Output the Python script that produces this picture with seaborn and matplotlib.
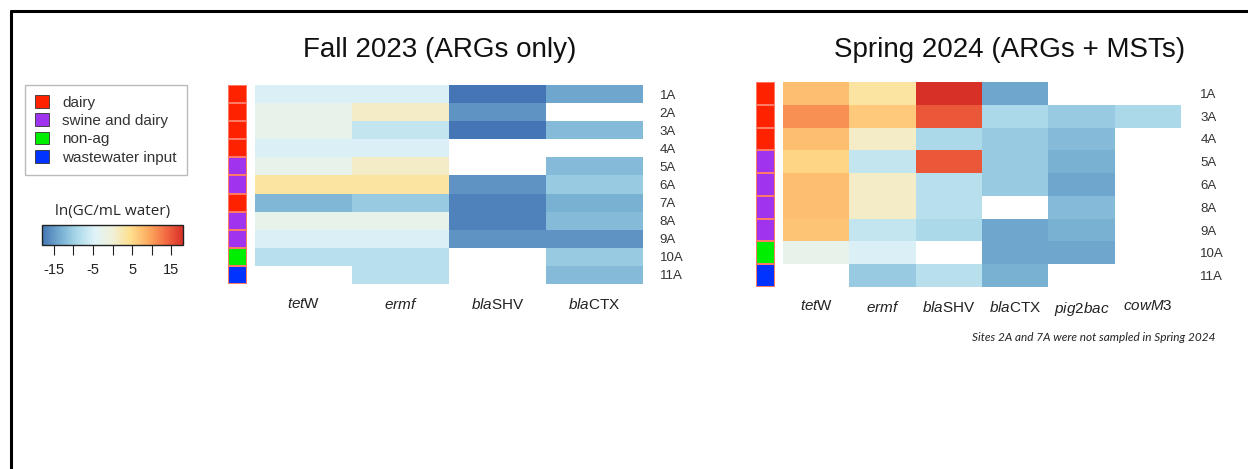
import numpy as np
import pandas as pd
import seaborn as sns
import matplotlib.pyplot as plt
from matplotlib.colors import LinearSegmentedColormap, ListedColormap, Normalize
from matplotlib.patches import Patch
from matplotlib.lines import Line2D
from matplotlib.cm import ScalarMappable

# ---- data (ln GC/mL water) ----
nan = np.nan
fall_sites = ["1A", "2A", "3A", "4A", "5A", "6A", "7A", "8A", "9A", "10A", "11A"]
fall_type = ["dairy", "dairy", "dairy", "dairy", "swine and dairy", "swine and dairy",
             "dairy", "swine and dairy", "swine and dairy", "non-ag", "wastewater input"]
fall_genes = ["tetW", "ermf", "blaSHV", "blaCTX"]
fall_tetW = [-5, -2.5, -2.5, -5, -2.5, 3.5, -12.5, -2.5, -5, -8, nan]
fall_ermf = [-5, 1, -7, -5, 1, 3.5, -10.5, -2.5, -5, -8, -8]
fall_blaSHV = [-18, -15.5, -18, nan, nan, -15.5, -17, -17, -15.5, nan, nan]
fall_blaCTX = [-14, nan, -12, nan, -12, -10.5, -13, -12, -15.5, -10.5, -12]

spring_sites = ["1A", "3A", "4A", "5A", "6A", "8A", "9A", "10A", "11A"]
spring_type = ["dairy", "dairy", "dairy", "swine and dairy", "swine and dairy",
               "swine and dairy", "swine and dairy", "non-ag", "wastewater input"]
spring_genes = ["tetW", "ermf", "blaSHV", "blaCTX", "pig2bac", "cowM3"]
spring_tetW = [7.5, 11, 7.5, 5.5, 7.5, 7.5, 7, -2.5, nan]
spring_ermf = [3.5, 6.5, 1, -7, 1, 1, -7, -5, -10.5]
spring_blaSHV = [18, 15, -9, 15, -8, -8, -9, nan, -8]
spring_blaCTX = [-14, -9, -10.5, -10.5, -10.5, nan, -14, -14, -13]
spring_pig2bac = [nan, -10.5, -12, -13, -14, -12, -13, -14, nan]
spring_cowM3 = [nan, -9, nan, nan, nan, nan, nan, nan, nan]

site_types = ["dairy", "swine and dairy", "non-ag", "wastewater input"]
type_colors = ["#ff2200", "#a033ee", "#00ee00", "#0033ff"]

gene_labels = {
    "tetW": r"$\it{tet}$W", "ermf": r"$\it{ermf}$",
    "blaSHV": r"$\it{bla}$SHV", "blaCTX": r"$\it{bla}$CTX",
    "pig2bac": r"$\it{pig2bac}$", "cowM3": r"$\it{cowM3}$",
}

sns.set_theme(style="white")
plt.rcParams["font.family"] = ["Liberation Sans", "DejaVu Sans"]
plt.rcParams["mathtext.fontset"] = "custom"
plt.rcParams["mathtext.rm"] = "Liberation Sans"
plt.rcParams["mathtext.it"] = "Liberation Sans:italic"

cmap = LinearSegmentedColormap.from_list("rdylbu", [
    "#4575b4", "#74add1", "#abd9e9", "#e0f3f8", "#f0f0d8",
    "#fee090", "#fdae61", "#f46d43", "#d73027"])
cmap.set_bad("white")
vmin, vmax = -18, 18
type_cmap = ListedColormap(type_colors)

W, H = 1248, 469
fig = plt.figure(figsize=(W / 100, H / 100), dpi=100)


def box(x0, y0, x1, y1):
    return [x0 / W, 1 - y1 / H, (x1 - x0) / W, (y1 - y0) / H]


def panel(strip_box, heat_box, sites, types, genes, cols, title, title_x, label_pad):
    df = pd.DataFrame(dict(zip(genes, cols)), index=sites)
    ax = fig.add_axes(box(*heat_box))
    sns.heatmap(df, ax=ax, cmap=cmap, vmin=vmin, vmax=vmax, cbar=False)
    ax.yaxis.tick_right()
    ax.set_yticklabels(sites, rotation=0, fontsize=9.5, color="#333333")
    ax.set_xticklabels([gene_labels[g] for g in genes], rotation=0, fontsize=11,
                       color="#222222")
    ax.tick_params(axis="y", length=0, pad=label_pad)
    ax.tick_params(axis="x", length=0, pad=9)
    ax.set_xlabel("")
    ax.set_ylabel("")

    codes = pd.DataFrame({"t": [site_types.index(t) for t in types]}, index=sites)
    sax = fig.add_axes(box(*strip_box))
    sns.heatmap(codes, ax=sax, cmap=type_cmap, vmin=-0.5, vmax=3.5, cbar=False,
                linewidths=0.2, linecolor="#ff7a66")
    sax.set_xticks([])
    sax.set_yticks([])
    sax.set_xlabel("")
    sax.set_ylabel("")
    fig.text(title_x / W, 1 - 50 / H, title, ha="center", va="center", fontsize=20,
             color="#111111")


panel((228, 85, 247, 284), (255, 85, 643, 284), fall_sites, fall_type, fall_genes,
      [fall_tetW, fall_ermf, fall_blaSHV, fall_blaCTX],
      "Fall 2023 (ARGs only)", 440, 12)
panel((756, 82, 775, 287), (783, 82, 1181, 287), spring_sites, spring_type, spring_genes,
      [spring_tetW, spring_ermf, spring_blaSHV, spring_blaCTX, spring_pig2bac, spring_cowM3],
      "Spring 2024 (ARGs + MSTs)", 1010, 14)

# site type legend
handles = [Patch(facecolor=c, edgecolor="#333333", linewidth=0.6) for c in type_colors]
leg = fig.legend(handles, site_types, loc="upper left",
                 bbox_to_anchor=(25 / W, 1 - 85 / H), fontsize=11,
                 frameon=True, fancybox=False, edgecolor="#aaaaaa",
                 handlelength=0.9, handleheight=0.9, handletextpad=0.9,
                 labelspacing=0.25, borderpad=0.65, borderaxespad=0)
leg.get_frame().set_linewidth(1.0)
for t in leg.get_texts():
    t.set_color("#333333")

# colour key
cax = fig.add_axes(box(42, 225, 183, 245))
cb = fig.colorbar(ScalarMappable(norm=Normalize(vmin, vmax), cmap=cmap), cax=cax,
                  orientation="horizontal")
cb.set_ticks([-15, -10, -5, 0, 5, 10, 15])
cb.set_ticklabels(["-15", "", "-5", "", "5", "", "15"])
cax.tick_params(length=7, width=0.8, pad=6, labelsize=10.5, colors="#222222")
cb.outline.set_edgecolor("#222222")
cb.outline.set_linewidth(1.0)
cax.set_title("ln(GC/mL water)", fontsize=11, pad=7, family=["Open Sans", "DejaVu Sans"])

fig.text(1216 / W, 1 - 337 / H, "Sites 2A and 7A were not sampled in Spring 2024",
         ha="right", va="center", fontsize=8.5, style="italic",
         family=["Lato", "DejaVu Sans"], color="#222222")

# page frame (left and top edges)
fig.add_artist(Line2D([11 / W, 11 / W], [0, 1 - 11 / H], transform=fig.transFigure,
                      color="black", linewidth=2.2))
fig.add_artist(Line2D([11 / W, 1], [1 - 11 / H, 1 - 11 / H], transform=fig.transFigure,
                      color="black", linewidth=2.2))

fig.savefig("out.png", dpi=100, facecolor="white")
